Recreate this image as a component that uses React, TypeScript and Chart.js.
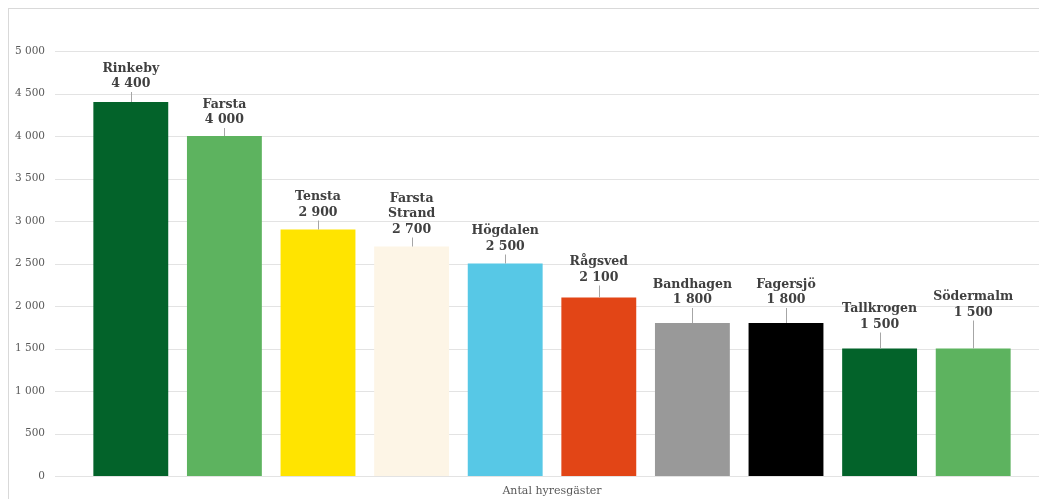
import React, { useEffect, useRef } from "react";
import { Chart, registerables } from "chart.js";

Chart.register(...registerables);

const categories = [
  "Rinkeby",
  "Farsta",
  "Tensta",
  "Farsta Strand",
  "Högdalen",
  "Rågsved",
  "Bandhagen",
  "Fagersjö",
  "Tallkrogen",
  "Södermalm",
];
const values = [4400, 4000, 2900, 2700, 2500, 2100, 1800, 1800, 1500, 1500];
const barColors = [
  "#03632A",
  "#5DB35F",
  "#FFE400",
  "#FDF5E6",
  "#57C8E6",
  "#E24516",
  "#999999",
  "#000000",
  "#03632A",
  "#5DB35F",
];
// label lift above bar top (px), styling only
const labelLift = [18, 16, 17, 17, 17, 20, 23, 23, 24, 36];
const axisTitle = "Antal hyresgäster";
const yMax = 5000;
const yStep = 500;

const fmt = (v: number) =>
  String(v).replace(/\B(?=(\d{3})+(?!\d))/g, " ");

const SERIF = "'DejaVu Serif', Georgia, serif";

const gridPlugin = {
  id: "extGrid",
  beforeDatasetsDraw(chart: any) {
    const { ctx } = chart;
    const y = chart.scales.y;
    ctx.save();
    ctx.strokeStyle = "#e3e3e3";
    ctx.lineWidth = 1;
    for (let v = 0; v <= yMax; v += yStep) {
      const py = Math.round(y.getPixelForValue(v)) + 0.5;
      ctx.beginPath();
      ctx.moveTo(46, py);
      ctx.lineTo(chart.width, py);
      ctx.stroke();
    }
    ctx.restore();
  },
};

const labelPlugin = {
  id: "barLabels",
  afterDatasetsDraw(chart: any) {
    const { ctx } = chart;
    const meta = chart.getDatasetMeta(0);
    ctx.save();
    ctx.font = `bold 12.5px ${SERIF}`;
    ctx.fillStyle = "#404040";
    ctx.textAlign = "center";
    ctx.textBaseline = "middle";
    const lh = 15.5;
    meta.data.forEach((bar: any, i: number) => {
      const x = bar.x;
      const top = bar.y;
      const valY = top - labelLift[i];
      const name = categories[i];
      let lines = [name];
      if (ctx.measureText(name).width > bar.width) lines = name.split(" ");
      ctx.fillText(fmt(values[i]), x, valY);
      for (let k = 0; k < lines.length; k++) {
        ctx.fillText(lines[lines.length - 1 - k], x, valY - lh * (k + 1));
      }
      ctx.strokeStyle = "#a6a6a6";
      ctx.lineWidth = 1;
      ctx.beginPath();
      const lx = Math.round(x) + 0.5;
      ctx.moveTo(lx, valY + 8);
      ctx.lineTo(lx, top);
      ctx.stroke();
    });
    ctx.restore();
  },
};

export default function App() {
  const ref = useRef<HTMLCanvasElement | null>(null);
  useEffect(() => {
    if (!ref.current) return;
    const chart = new Chart(ref.current, {
      type: "bar",
      data: {
        labels: categories,
        datasets: [
          {
            data: values,
            backgroundColor: barColors,
            borderWidth: 0,
            barPercentage: 0.8,
            categoryPercentage: 1,
          },
        ],
      },
      plugins: [gridPlugin, labelPlugin],
      options: {
        animation: false,
        responsive: false,
        maintainAspectRatio: false,
        layout: { padding: { top: 42, right: 27, left: 0, bottom: 0 } },
        plugins: {
          legend: { display: false },
          tooltip: { enabled: false },
        },
        scales: {
          x: {
            grid: { display: false, drawTicks: false },
            border: { display: false },
            ticks: { display: false },
            title: {
              display: true,
              text: axisTitle,
              color: "#595959",
              font: { family: SERIF, size: 11 },
              padding: { top: 0, bottom: 1 },
            },
            afterFit(scale: any) {
              scale.height = 23;
              scale.paddingLeft = 0;
              scale.paddingRight = 0;
            },
          },
          y: {
            min: 0,
            max: yMax,
            grid: { display: false, drawTicks: false },
            border: { display: false },
            ticks: {
              stepSize: yStep,
              padding: 39,
              color: "#595959",
              font: { family: SERIF, size: 10.5 },
              callback: (v: any) => fmt(Number(v)),
            },
            afterFit(scale: any) {
              scale.width = 75;
              scale.paddingTop = 0;
              scale.paddingBottom = 0;
            },
          },
        },
      },
    });
    return () => chart.destroy();
  }, []);
  return (
    <div
      style={{
        width: 1038,
        height: 490,
        borderLeft: "1px solid #d9d9d9",
        borderTop: "1px solid #d9d9d9",
      }}
    >
      <canvas ref={ref} width={1038} height={490} style={{ display: "block" }} />
    </div>
  );
}
